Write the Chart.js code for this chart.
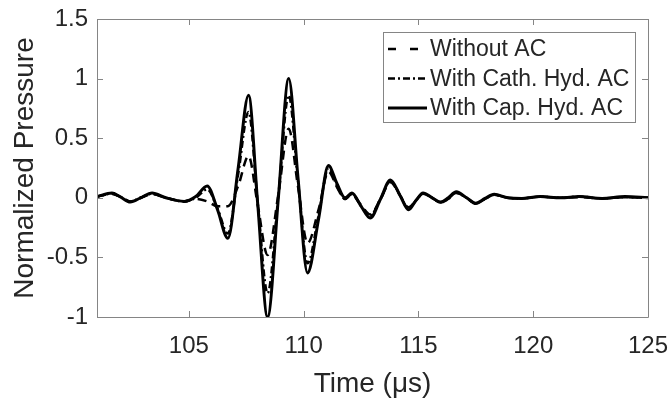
<!DOCTYPE html>
<html lang="en">
<head>
<meta charset="UTF-8">
<title>Normalized Pressure vs Time</title>
<script src="https://cdn.jsdelivr.net/npm/chart.js"></script>
<style>
  body { margin: 0; background: #fff; }
  #wrap { width: 671px; height: 398px; }
</style>
</head>
<body>
<div id="wrap"><canvas id="chart" width="671" height="398"></canvas></div>
<script>
// time axis (microseconds), shared by all three traces
const timeUs = [101.0, 101.65, 102.0, 102.45, 102.9, 103.4, 104.0, 104.8, 105.3, 105.8,
  106.25, 106.7, 107.15, 107.6, 108.0, 108.43, 108.9, 109.35, 109.75, 110.17,
  110.65, 111.08, 111.45, 111.8, 112.1, 112.5, 112.9, 113.35, 113.78, 114.2,
  114.57, 114.9, 115.2, 115.6, 115.96, 116.3, 116.65, 117.1, 117.5, 117.9,
  118.3, 118.9, 119.5, 120.3, 121.2, 122.0, 123.0, 124.0, 125.0];

const withoutAC = [0.01, 0.035, 0.01, -0.03, 0.0, 0.03, 0.0, -0.03, -0.01, -0.03,
  -0.07, -0.07, 0.1, 0.35, -0.06, -0.48, 0.03, 0.58, 0.1, -0.38,
  -0.1, 0.22, 0.09, -0.01, 0.03, -0.06, -0.14, -0.01, 0.13, 0.02,
  -0.08, -0.02, 0.035, 0.0, -0.04, -0.01, 0.04, 0.0, -0.05, -0.01,
  0.025, 0.0, -0.005, 0.01, 0.0, 0.005, -0.005, 0.005, 0.0];

const cathHydAC = [0.01, 0.035, 0.01, -0.03, 0.0, 0.035, 0.0, -0.03, 0.0, 0.07,
  -0.09, -0.30, 0.2, 0.72, -0.04, -0.80, 0.02, 0.86, 0.15, -0.55,
  -0.15, 0.25, 0.1, -0.01, 0.03, -0.07, -0.15, -0.01, 0.14, 0.02,
  -0.09, -0.02, 0.035, 0.0, -0.04, -0.005, 0.04, 0.0, -0.05, -0.01,
  0.025, 0.0, -0.005, 0.01, 0.0, 0.01, -0.005, 0.005, 0.0];

const capHydAC = [0.01, 0.04, 0.01, -0.035, 0.0, 0.04, 0.0, -0.03, 0.01, 0.10,
  -0.10, -0.34, 0.25, 0.86, -0.05, -1.0, 0.0, 1.0, 0.18, -0.63,
  -0.18, 0.27, 0.12, 0.0, 0.04, -0.07, -0.17, -0.01, 0.15, 0.02,
  -0.10, -0.02, 0.04, 0.0, -0.035, 0.0, 0.05, 0.0, -0.045, -0.005,
  0.03, 0.0, -0.005, 0.01, 0.0, 0.01, -0.005, 0.01, 0.0];

const seriesNames = ['Without AC', 'With Cath. Hyd. AC', 'With Cap. Hyd. AC'];
const xTicks = [105, 110, 115, 120, 125];
const yTicks = [-1, -0.5, 0, 0.5, 1, 1.5];

const FONT = "'Liberation Sans', Arial, sans-serif";
const TEXT = '#262626';
const AXIS = '#858585';

function pts(ys) {
  return timeUs.map((t, i) => ({ x: t, y: ys[i] }));
}

// box + inward tick marks, MATLAB style
const boxTicks = {
  id: 'boxTicks',
  afterDatasetsDraw(chart) {
    const { ctx, chartArea: a, scales } = chart;
    ctx.save();
    ctx.strokeStyle = AXIS;
    ctx.lineWidth = 1;
    ctx.beginPath();
    ctx.rect(a.left + 0.5, a.top + 0.5, a.right - a.left, a.bottom - a.top);
    xTicks.forEach(v => {
      const px = Math.round(scales.x.getPixelForValue(v)) + 0.5;
      ctx.moveTo(px, a.bottom); ctx.lineTo(px, a.bottom - 6);
      ctx.moveTo(px, a.top); ctx.lineTo(px, a.top + 6);
    });
    yTicks.forEach(v => {
      const py = Math.round(scales.y.getPixelForValue(v)) + 0.5;
      ctx.moveTo(a.left, py); ctx.lineTo(a.left + 6, py);
      ctx.moveTo(a.right, py); ctx.lineTo(a.right - 6, py);
    });
    ctx.stroke();
    ctx.restore();
  }
};

// legend box inside the plot, top right
const boxLegend = {
  id: 'boxLegend',
  afterDraw(chart) {
    const ctx = chart.ctx;
    const x0 = 383, y0 = 32, w = 252, h = 90;
    ctx.save();
    ctx.fillStyle = '#fff';
    ctx.fillRect(x0, y0, w, h);
    ctx.strokeStyle = AXIS;
    ctx.lineWidth = 1;
    ctx.strokeRect(x0 + 0.5, y0 + 0.5, w, h);
    ctx.font = '23px ' + FONT;
    ctx.textBaseline = 'middle';
    chart.data.datasets.forEach((ds, i) => {
      const y = y0 + 17 + i * 29.5;
      ctx.strokeStyle = '#000';
      ctx.lineWidth = ds.borderWidth;
      ctx.setLineDash(i === 0 ? [8, 14] : (ds.borderDash || []));
      ctx.beginPath();
      ctx.moveTo(388, y); ctx.lineTo(427, y);
      ctx.stroke();
      ctx.setLineDash([]);
      ctx.fillStyle = TEXT;
      ctx.fillText(ds.label, 430, y + 1);
    });
    ctx.restore();
  }
};

new Chart(document.getElementById('chart'), {
  type: 'line',
  data: {
    datasets: [
      { label: seriesNames[0], data: pts(withoutAC), borderColor: '#000', borderWidth: 2.5, borderDash: [9, 6] },
      { label: seriesNames[1], data: pts(cathHydAC), borderColor: '#000', borderWidth: 2.5, borderDash: [7, 3, 2, 3] },
      { label: seriesNames[2], data: pts(capHydAC), borderColor: '#000', borderWidth: 3 }
    ]
  },
  options: {
    responsive: false,
    animation: false,
    devicePixelRatio: 1,
    layout: { padding: { top: 19, right: 23, left: 0, bottom: 0 } },
    elements: {
      point: { radius: 0 },
      line: { cubicInterpolationMode: 'monotone', fill: false }
    },
    plugins: { legend: { display: false }, tooltip: { enabled: false } },
    scales: {
      x: {
        type: 'linear',
        min: 101, max: 125,
        afterBuildTicks: s => { s.ticks = xTicks.map(v => ({ value: v })); },
        afterFit: s => { s.height = 81; s.paddingLeft = 0; s.paddingRight = 0; },
        grid: { display: false, drawTicks: false },
        border: { display: false },
        ticks: { color: TEXT, font: { family: FONT, size: 24 }, padding: 15, maxRotation: 0 },
        title: {
          display: true, text: 'Time (μs)', color: TEXT,
          font: { family: FONT, size: 28, lineHeight: 1.0 }, padding: { top: 0, bottom: 0 }
        }
      },
      y: {
        min: -1, max: 1.5,
        afterBuildTicks: s => { s.ticks = yTicks.map(v => ({ value: v })); },
        afterFit: s => { s.width = 97; s.paddingTop = 0; s.paddingBottom = 0; },
        grid: { display: false, drawTicks: false },
        border: { display: false },
        ticks: { color: TEXT, font: { family: FONT, size: 24 }, padding: 9, callback: v => String(v) },
        title: {
          display: true, text: 'Normalized Pressure', color: TEXT,
          font: { family: FONT, size: 28, lineHeight: 1.2 }, padding: { top: 8, bottom: 0 }
        }
      }
    }
  },
  plugins: [boxTicks, boxLegend]
});
</script>
</body>
</html>
